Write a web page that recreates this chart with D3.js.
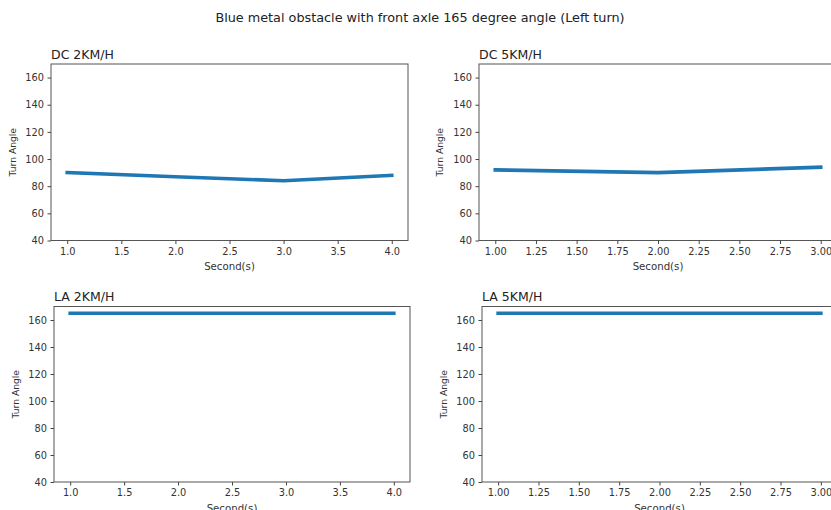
<!DOCTYPE html>
<html>
<head>
<meta charset="utf-8">
<script src="https://cdn.jsdelivr.net/npm/d3@7"></script>
<style>
  html, body { margin: 0; padding: 0; background: #fff; }
  svg { display: block; font-family: "DejaVu Sans", sans-serif; }
  .tick text { fill: #333; }
  .tick line { stroke: #444; }
</style>
</head>
<body>
<svg id="chart" width="831" height="510"></svg>
<script>
// Turn angle over time, four runs
const figureTitle = "Blue metal obstacle with front axle 165 degree angle (Left turn)";
const panelTitles = ["DC 2KM/H", "DC 5KM/H", "LA 2KM/H", "LA 5KM/H"];

const secondsDC2 = [1, 2, 3, 4];
const angleDC2   = [90, 87, 84, 88];
const secondsDC5 = [1, 2, 3];
const angleDC5   = [92, 90, 94];
const secondsLA2 = [1, 2, 3, 4];
const angleLA2   = [165, 165, 165, 165];
const secondsLA5 = [1, 2, 3];
const angleLA5   = [165, 165, 165];

const yTicks = [40, 60, 80, 100, 120, 140, 160];
const xTicksHalf = [1.0, 1.5, 2.0, 2.5, 3.0, 3.5, 4.0];
const xTicksQuarter = [1.00, 1.25, 1.50, 1.75, 2.00, 2.25, 2.50, 2.75, 3.00];
const yRange = [40, 170];

const xLabel = "Second(s)";
const yLabel = "Turn Angle";
const lineColor = "#1f77b4";

const svg = d3.select("#chart");

svg.append("text")
  .attr("x", 420).attr("y", 22)
  .attr("text-anchor", "middle")
  .attr("font-size", 12.8)
  .attr("fill", "#222")
  .text(figureTitle);

const panels = [
  { title: panelTitles[0], xs: secondsDC2, ys: angleDC2, xDom: [0.85, 4.15], ticks: xTicksHalf, fmt: ".1f",
    box: { l: 51, r: 408, t: 64, b: 240.5 }, yLabX: 12 },
  { title: panelTitles[1], xs: secondsDC5, ys: angleDC5, xDom: [0.9, 3.1], ticks: xTicksQuarter, fmt: ".2f",
    box: { l: 479, r: 837, t: 64, b: 240.5 }, yLabX: 439 },
  { title: panelTitles[2], xs: secondsLA2, ys: angleLA2, xDom: [0.85, 4.15], ticks: xTicksHalf, fmt: ".1f",
    box: { l: 54, r: 410, t: 306.5, b: 482 }, yLabX: 15 },
  { title: panelTitles[3], xs: secondsLA5, ys: angleLA5, xDom: [0.9, 3.1], ticks: xTicksQuarter, fmt: ".2f",
    box: { l: 482, r: 837, t: 306.5, b: 482 }, yLabX: 443 }
];

panels.forEach(p => {
  const { l, r, t, b } = p.box;
  const x = d3.scaleLinear().domain(p.xDom).range([l, r]);
  const y = d3.scaleLinear().domain(yRange).range([b, t]);
  const g = svg.append("g");

  // data line
  const line = d3.line().x((d, i) => x(p.xs[i])).y(d => y(d));
  g.append("path")
    .datum(p.ys)
    .attr("d", line)
    .attr("fill", "none")
    .attr("stroke", lineColor)
    .attr("stroke-width", 3.6)
    .attr("stroke-linecap", "square")
    .attr("stroke-linejoin", "round");

  // frame
  g.append("rect")
    .attr("x", l).attr("y", t)
    .attr("width", r - l).attr("height", b - t)
    .attr("fill", "none")
    .attr("stroke", "#555")
    .attr("stroke-width", 1);

  // axes
  const ax = g.append("g")
    .attr("transform", `translate(0,${b})`)
    .call(d3.axisBottom(x).tickValues(p.ticks).tickFormat(d3.format(p.fmt))
      .tickSize(3.5).tickPadding(4));
  ax.select(".domain").remove();
  ax.selectAll("text").attr("font-size", 9.8).attr("font-family", "DejaVu Sans");

  const ay = g.append("g")
    .attr("transform", `translate(${l},0)`)
    .call(d3.axisLeft(y).tickValues(yTicks).tickFormat(d3.format("d"))
      .tickSize(3.5).tickPadding(3.5));
  ay.select(".domain").remove();
  ay.selectAll("text").attr("font-size", 9.8).attr("font-family", "DejaVu Sans");

  // titles and labels
  g.append("text")
    .attr("x", l).attr("y", t - 5.5)
    .attr("font-size", 12.5)
    .attr("fill", "#222")
    .text(p.title);

  g.append("text")
    .attr("x", (l + r) / 2).attr("y", b + 29.5)
    .attr("text-anchor", "middle")
    .attr("font-size", 10.2)
    .attr("fill", "#333")
    .text(xLabel);

  g.append("text")
    .attr("transform", `translate(${p.yLabX + 3.5},${(t + b) / 2}) rotate(-90)`)
    .attr("text-anchor", "middle")
    .attr("font-size", 9.2)
    .attr("fill", "#333")
    .text(yLabel);
});
</script>
</body>
</html>
